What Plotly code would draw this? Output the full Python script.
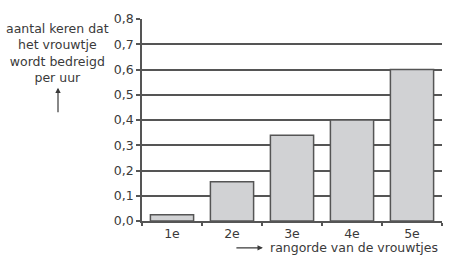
import plotly.graph_objects as go

categories = ["1e", "2e", "3e", "4e", "5e"]
values = [0.025, 0.155, 0.34, 0.40, 0.60]
y_tickvals = [0.0, 0.1, 0.2, 0.3, 0.4, 0.5, 0.6, 0.7, 0.8]
y_ticktext = ["0,0", "0,1", "0,2", "0,3", "0,4", "0,5", "0,6", "0,7", "0,8"]
y_title = "aantal keren dat<br>het vrouwtje<br>wordt bedreigd<br>per uur"
x_title = "rangorde van de vrouwtjes"

TXT = "#3a3a3a"
LINE = "#555555"
FONT = "DejaVu Sans"
FS = 12.5

fig = go.Figure()
fig.add_trace(go.Bar(
    x=categories, y=values, width=0.72,
    marker=dict(color="#d1d2d4", line=dict(color="#555555", width=1.5)),
))

fig.update_layout(
    width=449, height=265,
    margin=dict(l=142, r=7, t=19, b=44),
    paper_bgcolor="white", plot_bgcolor="white",
    showlegend=False,
    font=dict(family=FONT, size=FS, color=TXT),
    xaxis=dict(
        type="category", range=[-0.5, 4.5], tickson="boundaries",
        ticks="outside", ticklen=3, tickwidth=1.5, tickcolor=LINE,
        showline=True, linecolor=LINE, linewidth=1.5,
        showgrid=False, tickfont=dict(size=FS, color=TXT),
    ),
    yaxis=dict(
        range=[0, 0.8], tickvals=y_tickvals, ticktext=y_ticktext,
        ticks="outside", ticklen=4, tickwidth=1.5, tickcolor=LINE,
        showline=True, linecolor=LINE, linewidth=1.5,
        showgrid=True, gridcolor=LINE, gridwidth=1.5,
        zeroline=False, tickfont=dict(size=FS, color=TXT),
    ),
    annotations=[
        dict(xref="paper", yref="paper", x=-0.283, y=0.832, text=y_title,
             showarrow=False, xanchor="center", yanchor="middle", align="center",
             font=dict(size=FS, color=TXT)),
        dict(xref="paper", yref="paper", x=-0.28, y=0.66, ax=0, ay=26,
             text="", showarrow=True, arrowhead=2, arrowsize=0.9,
             arrowwidth=1.2, arrowcolor=TXT),
        dict(xref="paper", yref="paper", x=0.403, y=-0.133, ax=-28, ay=0,
             text="", showarrow=True, arrowhead=2, arrowsize=0.9,
             arrowwidth=1.2, arrowcolor=TXT),
        dict(xref="paper", yref="paper", x=0.42, y=-0.133, text=x_title,
             showarrow=False, xanchor="left", yanchor="middle",
             font=dict(size=FS, color=TXT)),
    ],
)

fig.write_html("out.html")
